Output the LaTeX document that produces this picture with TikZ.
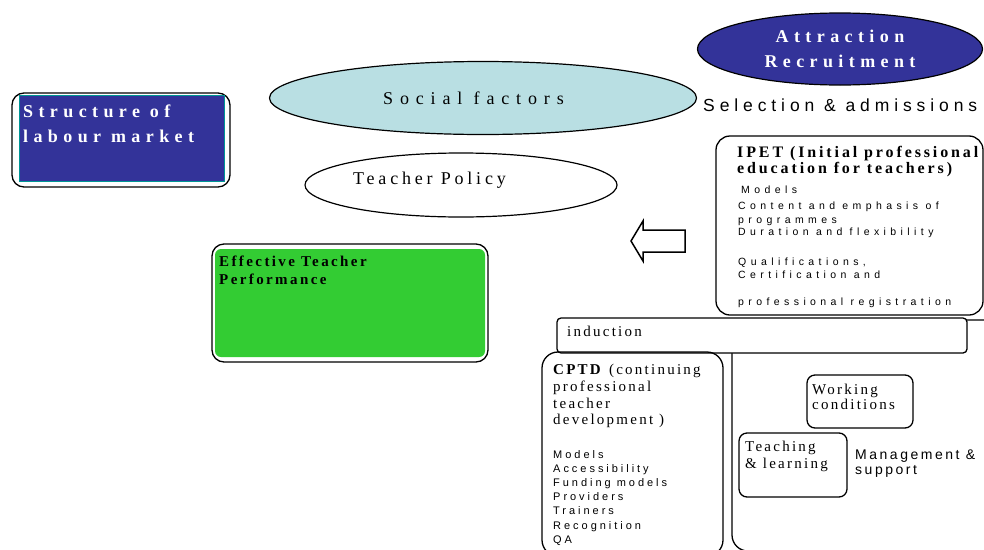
\documentclass[tikz,border=0pt]{standalone}
\usepackage{fontspec}
\setmainfont{Liberation Serif}
\setsansfont{Liberation Sans}
\usetikzlibrary{shapes.geometric}
\definecolor{deepblue}{RGB}{51,51,153}
\definecolor{paleblue}{RGB}{185,223,227}
\definecolor{leafgreen}{RGB}{51,204,51}
\definecolor{tealrim}{RGB}{0,150,150}
\newcommand{\spacedfont}[3]{\fontsize{#1}{#2}\selectfont\addfontfeature{LetterSpace=#3}}
\begin{document}
\begin{tikzpicture}[x=1pt,y=-1pt,
  boxline/.style={draw,line width=1.3pt,rounded corners=#1,inner sep=0pt},
  boxline/.default=12pt,
  oval/.style={ellipse,draw,line width=1.2pt,inner sep=0pt},
  tlabel/.style={anchor=north west,inner sep=0pt,align=left},
]
\useasboundingbox (0,0) rectangle (984,549);

\node[boxline,minimum width=218pt,minimum height=94pt] (labourbox) at (121,140) {};
\node[fill=deepblue,draw=tealrim,line width=1pt,inner sep=0pt,
  minimum width=205pt,minimum height=86pt] (labourfill) at (121.5,138) {};
\node[tlabel,text=white,font=\bfseries\spacedfont{18}{25}{30}] (labour) at (23,105)
  {Structure of\\labour market};

\node[boxline,minimum width=276pt,minimum height=118pt] (perfbox) at (350,303) {};
\node[fill=leafgreen,rounded corners=6pt,inner sep=0pt,
  minimum width=270pt,minimum height=108pt] (perffill) at (350,303) {};
\node[tlabel,font=\bfseries\spacedfont{15}{18}{16}] (perf) at (219,256)
  {Effective Teacher\\Performance};

\node[oval,fill=paleblue,minimum width=427pt,minimum height=73pt] (social) at (483,98) {};
\node[tlabel,font=\spacedfont{18}{20}{38}] (socialtext) at (383,92) {Social factors};
\node[oval,minimum width=312pt,minimum height=64pt] (policy) at (461,185) {};
\node[tlabel,font=\spacedfont{18}{20}{21}] (policytext) at (353,172) {Teacher Policy};

\node[oval,fill=deepblue,text=white,align=center,minimum width=285pt,minimum height=72pt,
  font=\bfseries\spacedfont{18}{25}{30}] (attract) at (840,49) {Attraction\\Recruitment};
\node[tlabel,font=\sffamily\spacedfont{17.5}{20}{28}] (select) at (703,99)
  {Selection \& admissions};

\node[boxline=14pt,minimum width=267pt,minimum height=179pt] (ipet) at (849.5,225.5) {};
\node[tlabel,font=\bfseries\spacedfont{16}{16}{18}] (ipethead) at (737,146)
  {IPET (Initial professional\\education for teachers)};
\node[tlabel,font=\sffamily\spacedfont{10.5}{13}{42}] (ipetlist) at (738,186)
  {\hspace{3pt}Models\\[3pt]Content and emphasis of\\[1pt]programmes\\[-1pt]Duration and flexibility\\[17pt]
   Qualifications,\\Certification and\\[14pt]professional registration};

\draw[line width=1.5pt,fill=white] (631,241) -- (643,221) -- (643,230) -- (685,230)
  -- (685,252) -- (643,252) -- (643,261) -- cycle;

\node[boxline=16pt,minimum width=278pt,minimum height=231pt] (careerbox) at (871,435.5) {};
\node[boxline=4pt,fill=white,minimum width=410pt,minimum height=35pt] (induct) at (762,335.5) {};
\node[tlabel,font=\spacedfont{15}{17}{15}] (inducttext) at (567,326) {induction};

\node[boxline=16pt,minimum width=181pt,minimum height=204pt] (cptd) at (632.5,454) {};
\node[tlabel,font=\spacedfont{15}{16.7}{15}] (cptdhead) at (553,364)
  {\textbf{CPTD} (continuing\\professional\\teacher\\development )};
\node[tlabel,font=\sffamily\spacedfont{11}{14.2}{27}] (cptdlist) at (553,450)
  {Models\\Accessibility\\Funding models\\Providers\\Trainers\\Recognition\\QA};

\node[boxline=8pt,minimum width=106pt,minimum height=53pt] (working) at (860,401.5) {};
\node[tlabel,font=\spacedfont{15}{15}{15}] (workingtext) at (812,384) {Working\\conditions};
\node[boxline=8pt,minimum width=108pt,minimum height=64pt] (teaching) at (793,465) {};
\node[tlabel,font=\spacedfont{15}{17}{15}] (teachingtext) at (745,441) {Teaching\\\& learning};
\node[tlabel,font=\sffamily\spacedfont{14}{15}{18}] (manage) at (855,450) {Management \&\\support};
\end{tikzpicture}
\end{document}
